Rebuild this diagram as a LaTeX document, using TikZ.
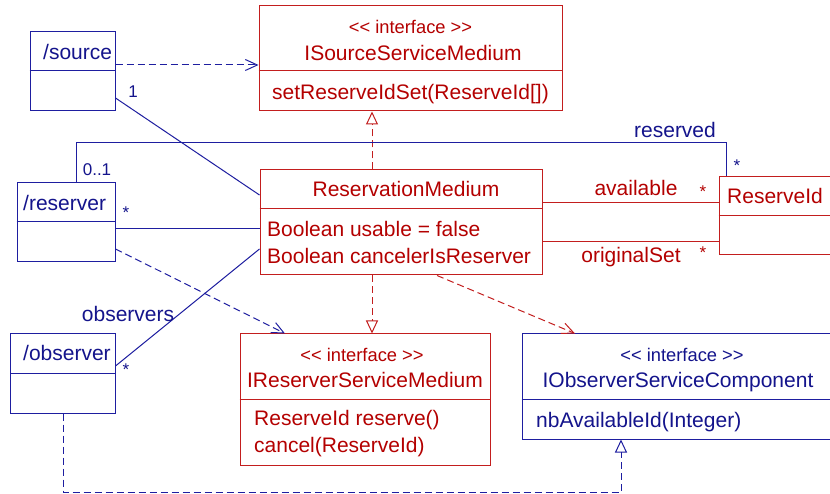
\documentclass[tikz,border=0pt]{standalone}
\usepackage{fontspec}
\setmainfont{Liberation Sans}[Ligatures=TeXOff]
\usetikzlibrary{arrows.meta,calc}
\definecolor{rc}{RGB}{195,30,30}
\definecolor{rt}{RGB}{180,0,0}
\definecolor{bc}{RGB}{30,30,160}
\definecolor{bt}{RGB}{20,20,140}
\begin{document}
\begin{tikzpicture}[x=1pt,y=-1pt,
  rbox/.style={draw=rc, line width=1pt, inner sep=0pt},
  bbox/.style={draw=bc, line width=1pt, inner sep=0pt},
  main/.style={font=\fontsize{21}{24}\selectfont, inner sep=0pt, yshift=-5pt},
  stereo/.style={font=\fontsize{18.3}{20}\selectfont, inner sep=0pt},
  mult/.style={font=\fontsize{17}{20}\selectfont, inner sep=0pt},
  rl/.style={draw=rc, line width=1pt},
  bl/.style={draw=bc, line width=1pt},
  dsh/.style={dash pattern=on 7pt off 4pt},
  openv/.style={-{Straight Barb[length=12pt,width=11pt]}},
  realize/.style={-{Triangle[open,length=13pt,width=12pt]}}
]
\useasboundingbox (0,0) rectangle (830,494);
\fill[white] (0,0) rectangle (830,494);

% boxes
\node[bbox, minimum width=85pt, minimum height=79pt] (src) at (72.5,71.5) {};
\node[rbox, minimum width=303pt, minimum height=105pt] (isrc) at (410.5,58.5) {};
\node[bbox, minimum width=98pt, minimum height=79pt] (rsv) at (66,222.5) {};
\node[rbox, minimum width=282pt, minimum height=105pt] (rm) at (401,222.5) {};
\node[rbox, minimum width=131pt, minimum height=78pt] (rid) at (784.5,216) {};
\node[bbox, minimum width=104.5pt, minimum height=79pt] (obs) at (62.75,373.5) {};
\node[rbox, minimum width=250pt, minimum height=131pt] (irsv) at (365,399.5) {};
\node[bbox, minimum width=328pt, minimum height=105pt] (iobs) at (686,386.5) {};

% dividers
\draw[bl] (src.west |- 0,71) -- (src.east |- 0,71);
\draw[rl] (isrc.west |- 0,71) -- (isrc.east |- 0,71);
\draw[bl] (rsv.west |- 0,222) -- (rsv.east |- 0,222);
\draw[rl] (rm.west |- 0,209) -- (rm.east |- 0,209);
\draw[rl] (rid.west |- 0,216) -- (rid.east |- 0,216);
\draw[bl] (obs.west |- 0,373) -- (obs.east |- 0,373);
\draw[rl] (irsv.west |- 0,399) -- (irsv.east |- 0,399);
\draw[bl] (iobs.west |- 0,399) -- (iobs.east |- 0,399);

% texts
\node[main, text=bt, anchor=mid west] (tsrc) at (43,52) {/source};
\node[stereo, text=rt] (isrcS) at (410.5,27) {<< interface >>};
\node[main, text=rt, anchor=mid] (isrcN) at (413,53) {ISourceServiceMedium};
\node[main, text=rt, anchor=mid] (isrcO) at (410.5,92) {setReserveIdSet(ReserveId[])};
\node[main, text=bt, anchor=mid west] (trsv) at (23,203) {/reserver};
\node[main, text=rt, anchor=mid] (rmN) at (406,189) {ReservationMedium};
\node[main, text=rt, anchor=mid west] (rmA1) at (267,229) {Boolean usable = false};
\node[main, text=rt, anchor=mid west] (rmA2) at (267,256) {Boolean cancelerIsReserver};
\node[main, text=rt, anchor=mid west] (ridN) at (727,196) {ReserveId};
\node[main, text=bt, anchor=mid west] (tobs) at (23,353) {/observer};
\node[stereo, text=rt] (irsvS) at (362,355) {<< interface >>};
\node[main, text=rt, anchor=mid] (irsvN) at (365,380) {IReserverServiceMedium};
\node[main, text=rt, anchor=mid west] (irsvO1) at (254,418) {ReserveId reserve()};
\node[main, text=rt, anchor=mid west] (irsvO2) at (254,445) {cancel(ReserveId)};
\node[stereo, text=bt] (iobsS) at (682,355) {<< interface >>};
\node[main, text=bt, anchor=mid] (iobsN) at (678,380) {IObserverServiceComponent};
\node[main, text=bt, anchor=mid west] (iobsO) at (536,420) {nbAvailableId(Integer)};

% connectors
\draw[bl, dsh, openv] (src.east |- 0,65) -- (isrc.west |- 0,65);
\draw[bl] (src.east |- 0,98) -- (rm.west |- 0,195);
\draw[bl] (rsv.east |- 0,229) -- (rm.west |- 0,229);
\draw[bl] (obs.east |- 0,366) -- (rm.west |- 0,249);
\draw[bl, dsh, openv] (rsv.east |- 0,249) -- (irsv.north -| 285,0);
\draw[rl, dsh, realize] (rm.north -| 372,0) -- (isrc.south -| 372,0);
\draw[rl, dsh, realize] (rm.south -| 372,0) -- (irsv.north -| 372,0);
\draw[rl, dsh, openv] (rm.south -| 437,0) -- (iobs.north -| 575,0);
\draw[bl] (rsv.north -| 76,0) -- (76,143) -- (726,143) -- (rid.north -| 726,0);
\draw[rl] (rm.east |- 0,203) -- (rid.west |- 0,203);
\draw[rl] (rm.east |- 0,242) -- (rid.west |- 0,242);
\draw[bl, dsh, realize] (obs.south -| 63,0) -- (63,492) -- (621,492) -- (iobs.south -| 621,0);

% labels
\node[mult, text=bt] (m1) at (133,92) {1};
\node[mult, text=bt] (m01) at (97,170) {0..1};
\node[mult, text=bt] (mrs) at (126,213) {*};
\node[main, text=bt, anchor=mid] (lobs) at (128,314) {observers};
\node[mult, text=bt] (mob) at (126,370) {*};
\node[main, text=bt, anchor=mid] (lres) at (675,130) {reserved};
\node[mult, text=bt] (mres) at (737,166) {*};
\node[main, text=rt, anchor=mid] (lav) at (636,188) {available};
\node[mult, text=rt] (mav) at (703,192) {*};
\node[main, text=rt, anchor=mid] (lorig) at (631,255) {originalSet};
\node[mult, text=rt] (morig) at (703,253) {*};
\end{tikzpicture}
\end{document}
